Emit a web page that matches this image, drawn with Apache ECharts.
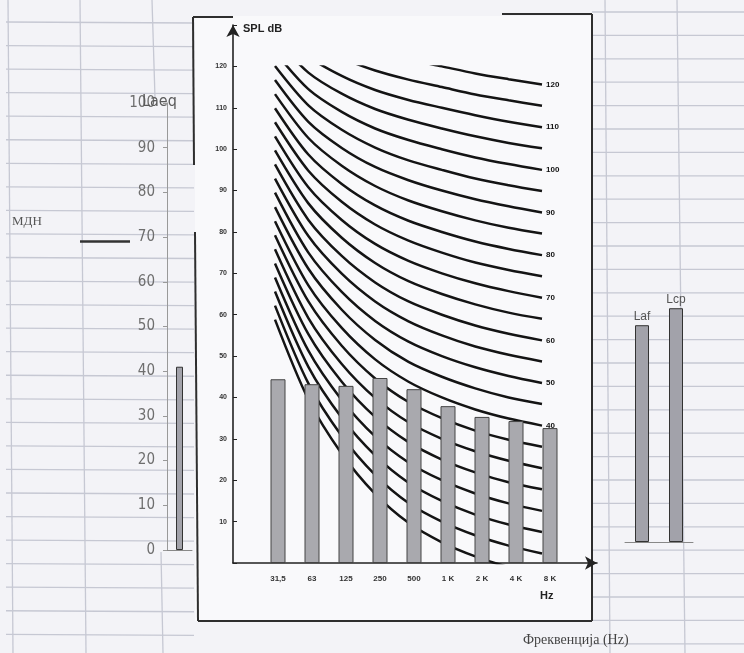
<!DOCTYPE html>
<html><head><meta charset="utf-8">
<script src="https://cdn.jsdelivr.net/npm/echarts@6/dist/echarts.min.js"></script>
<style>html,body{margin:0;padding:0;background:#f3f3f7}#c{width:744px;height:653px}</style>
</head><body><div id="c"></div>
<script>
// ---- data ----
const bands = ['31,5', '63', '125', '250', '500', '1 K', '2 K', '4 K', '8 K'];
const splBars = [44.4, 43.2, 42.8, 44.7, 42.0, 37.9, 35.3, 34.3, 32.6];
const laeqCat = ['Laeq'];
const laeqVal = [41];
const mdnLabel = 'МДН';
const mdnSpan = ['od', 'do'];
const mdnVal = [69, 69];
const sideCats = ['Laf', 'Lcp'];
const sideVals = [48.5, 52.3];
const freqTitle = 'Фреквенција (Hz)';

// noise-rating curves, values per octave band (dB)
const nr5   = [58.8, 39.5, 26.4, 16.7, 9.7, 5, 1.6, -1.0, -2.9];
const nr10  = [62.2, 43.4, 30.7, 21.3, 14.5, 10, 6.7, 4.2, 2.3];
const nr15  = [65.6, 47.4, 35.1, 26.0, 19.4, 15, 11.7, 9.3, 7.5];
const nr20  = [69.0, 51.3, 39.4, 30.6, 24.3, 20, 16.8, 14.4, 12.6];
const nr25  = [72.4, 55.3, 43.8, 35.3, 29.2, 25, 21.9, 19.5, 17.8];
const nr30  = [75.8, 59.2, 48.1, 39.9, 34.0, 30, 27.0, 24.7, 22.9];
const nr35  = [79.2, 63.2, 52.5, 44.6, 38.9, 35, 32.0, 29.8, 28.1];
const nr40  = [82.6, 67.1, 56.8, 49.2, 43.8, 40, 37.1, 34.9, 33.2];
const nr45  = [86.0, 71.1, 61.2, 53.9, 48.6, 45, 42.2, 40.0, 38.4];
const nr50  = [89.5, 75.0, 65.5, 58.5, 53.5, 50, 47.3, 45.2, 43.5];
const nr55  = [92.9, 79.0, 69.9, 63.2, 58.4, 55, 52.3, 50.3, 48.7];
const nr60  = [96.3, 82.9, 74.2, 67.8, 63.2, 60, 57.4, 55.4, 53.8];
const nr65  = [99.7, 86.9, 78.6, 72.5, 68.1, 65, 62.5, 60.5, 59.0];
const nr70  = [103.1, 90.8, 82.9, 77.1, 73.0, 70, 67.6, 65.7, 64.1];
const nr75  = [106.5, 94.8, 87.3, 81.8, 77.9, 75, 72.6, 70.8, 69.3];
const nr80  = [109.9, 98.7, 91.6, 86.4, 82.7, 80, 77.7, 75.9, 74.4];
const nr85  = [113.3, 102.7, 96.0, 91.1, 87.6, 85, 82.8, 81.0, 79.6];
const nr90  = [116.7, 106.6, 100.3, 95.7, 92.5, 90, 87.9, 86.2, 84.7];
const nr95  = [120.1, 110.6, 104.7, 100.4, 97.3, 95, 92.9, 91.3, 89.9];
const nr100 = [123.5, 114.5, 109.0, 105.0, 102.2, 100, 98.0, 96.4, 95.0];
const nr105 = [126.9, 118.5, 113.4, 109.7, 107.1, 105, 103.1, 101.5, 100.2];
const nr110 = [130.3, 122.4, 117.7, 114.3, 111.9, 110, 108.2, 106.6, 105.3];
const nr115 = [133.7, 126.4, 122.1, 119.0, 116.8, 115, 113.2, 111.8, 110.5];
const nr120 = [137.1, 130.3, 126.4, 123.6, 121.7, 120, 118.3, 116.9, 115.6];
const nrLevels = [5,10,15,20,25,30,35,40,45,50,55,60,65,70,75,80,85,90,95,100,105,110,115,120];
const nrCurves = [nr5,nr10,nr15,nr20,nr25,nr30,nr35,nr40,nr45,nr50,nr55,nr60,nr65,nr70,nr75,nr80,nr85,nr90,nr95,nr100,nr105,nr110,nr115,nr120];

// ---- decoration (background paper) ----
const paper = '#c6c8d3';
const narrow = '"Liberation Sans Narrow", "DejaVu Sans Condensed", sans-serif';
const g = [];
for (let k = 0; k < 28; k++) {
  const yl = 22 + 23.55 * k;
  g.push({type:'line', z:-10, silent:true, shape:{x1:6, y1:yl, x2:194, y2:yl+1}, style:{stroke:paper, lineWidth:1.3}});
  const yr = 12 + 23.4 * k;
  g.push({type:'line', z:-10, silent:true, shape:{x1:592, y1:yr, x2:744, y2:yr}, style:{stroke:paper, lineWidth:1.3}});
}
[[8,0,13,653],[80,0,86,653],[152,0,155,98],[161,552,163,653],[605,0,610,653],[677,0,685,653]].forEach(s=>{
  g.push({type:'line', z:-10, silent:true, shape:{x1:s[0],y1:s[1],x2:s[2],y2:s[3]}, style:{stroke:paper, lineWidth:1.3}});
});
g.push({type:'rect', z:-6, silent:true, shape:{x:195, y:16, width:397, height:605}, style:{fill:'#f9f9fb'}});
const frame = '#2e2e2e';
[[193,17,233,17],[193,17,194,165],[195,232,198,621],[198,621,592,621],[592,14,592,621],[502,14,592,14]].forEach(s=>{
  g.push({type:'line', z:-5, silent:true, shape:{x1:s[0],y1:s[1],x2:s[2],y2:s[3]}, style:{stroke:frame, lineWidth:2}});
});
g.push({type:'text', z:5, silent:true, left:12, top:215, style:{text:mdnLabel, font:'13px "Liberation Serif"', fill:'#555'}});
g.push({type:'text', z:5, silent:true, left:523, top:633, style:{text:freqTitle, font:'14px "Liberation Serif"', fill:'#444'}});
g.push({type:'text', z:5, silent:true, left:142, top:94, style:{text:laeqCat[0], font:'16px ' + narrow, fill:'#5a5a5a'}});

const hidden = {show:false};

const curveSeries = nrCurves.map((d, i) => ({
  type:'line', xAxisIndex:4, yAxisIndex:4, data:d, symbol:'none', smooth:0.3, z:2, silent:true,
  lineStyle:{color:'#141414', width:2.5},
  endLabel:{show: nrLevels[i] % 10 === 0, formatter: String(nrLevels[i]), fontSize:8, fontWeight:'bold', color:'#111', distance:4}
}));

const option = {
  animation:false,
  backgroundColor:'#f3f3f7',
  graphic: g,
  grid:[
    {left:167, top:103, width:25, height:447, outerBoundsMode:'none'},
    {left:80, top:103, width:50, height:447, outerBoundsMode:'none'},
    {left:233, top:25, width:364, height:538, outerBoundsMode:'none'},
    {left:261, top:25, width:306, height:538, outerBoundsMode:'none'},
    {left:275, top:66.4, width:267, height:496.6, outerBoundsMode:'none'},
    {left:625, top:95, width:68, height:447, outerBoundsMode:'none'}
  ],
  xAxis:[
    {gridIndex:0, type:'category', data:laeqCat, axisLine:{show:true, lineStyle:{color:'#888'}}, axisTick:hidden, axisLabel:hidden},
    {gridIndex:1, type:'category', data:mdnSpan, boundaryGap:false, show:false},
    {gridIndex:2, type:'value', min:0, max:1, axisLine:{show:true, symbol:['none','arrow'], symbolSize:[10,12], lineStyle:{color:'#222', width:1.6}},
      axisTick:hidden, axisLabel:hidden, splitLine:hidden,
      name:'Hz', nameLocation:'end', nameGap:-57, nameTextStyle:{align:'left', verticalAlign:'top', padding:[27,0,0,0], fontWeight:'bold', fontSize:11, color:'#222'}},
    {gridIndex:3, type:'category', data:bands, axisLine:hidden, axisTick:hidden,
      axisLabel:{fontSize:8, fontWeight:'bold', color:'#333', margin:12}},
    {gridIndex:4, type:'category', data:bands, boundaryGap:false, show:false},
    {gridIndex:5, type:'category', data:sideCats, axisLine:{show:true, lineStyle:{color:'#888'}}, axisTick:hidden, axisLabel:hidden}
  ],
  yAxis:[
    {gridIndex:0, type:'value', min:0, max:100, interval:10, splitLine:hidden,
      axisLine:{show:true, lineStyle:{color:'#999'}}, axisTick:{show:true, length:4, lineStyle:{color:'#999'}},
      axisLabel:{fontSize:15, color:'#6e6e6e', fontFamily:narrow, margin:12}},
    {gridIndex:1, type:'value', min:0, max:100, show:false},
    {gridIndex:2, type:'value', min:0, max:130, interval:10, splitLine:hidden,
      axisLine:{show:true, symbol:['none','arrow'], symbolSize:[10,12], lineStyle:{color:'#222', width:1.6}},
      axisTick:{show:true, inside:true, length:4, lineStyle:{color:'#222'}},
      axisLabel:{fontSize:7, fontWeight:'bold', color:'#333', margin:6, formatter:v => (v === 0 || v === 130) ? '' : v},
      name:'SPL dB', nameLocation:'end', nameGap:-4, nameTextStyle:{align:'left', verticalAlign:'middle', fontWeight:'bold', fontSize:11, color:'#222', padding:[0,0,0,10]}},
    {gridIndex:3, type:'value', min:0, max:130, show:false},
    {gridIndex:4, type:'value', min:0, max:120, show:false},
    {gridIndex:5, type:'value', min:0, max:100, show:false}
  ],
  series:[
    {type:'bar', xAxisIndex:0, yAxisIndex:0, data:laeqVal, barWidth:7, z:5,
      itemStyle:{color:'#a2a2aa', borderColor:'#333', borderWidth:1}},
    {type:'line', xAxisIndex:1, yAxisIndex:1, data:mdnVal, symbol:'none', z:5,
      lineStyle:{color:'#333', width:2.5}},
    {type:'bar', xAxisIndex:3, yAxisIndex:3, data:splBars, barWidth:15, z:6,
      itemStyle:{color:'#a9a9ae', borderColor:'#444', borderWidth:1}},
    ...curveSeries,
    {type:'bar', xAxisIndex:5, yAxisIndex:5, data:sideVals, barWidth:14, z:5,
      itemStyle:{color:'#a2a2aa', borderColor:'#333', borderWidth:1},
      label:{show:true, position:'top', formatter:'{b}', color:'#555', fontSize:12, distance:3}}
  ]
};
echarts.init(document.getElementById('c')).setOption(option);
</script></body></html>
